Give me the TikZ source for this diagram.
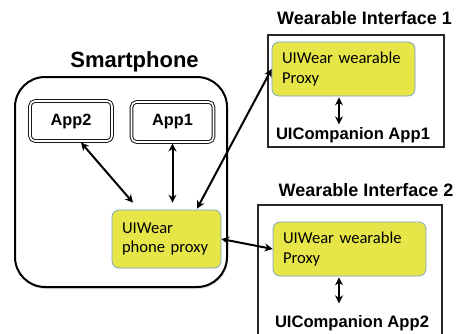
\documentclass[tikz,border=0pt]{standalone}
\usepackage{fontspec}
\setmainfont{Liberation Sans}
\newfontfamily\calib{Carlito}
\usetikzlibrary{arrows.meta,calc,shadows}
\definecolor{prox}{RGB}{231,230,72}
\definecolor{proxedge}{RGB}{120,160,205}
\tikzset{
  x=1pt,y=-1pt,
  ttl/.style={font=\fontsize{18}{20}\selectfont\bfseries,anchor=base,inner sep=0},
  lbl/.style={font=\fontsize{16.6}{19}\selectfont\bfseries,anchor=base,inner sep=0},
  appbox/.style={draw=black!90,double=white,double distance=1.6pt,line width=1pt,rounded corners=5pt,
     minimum width=82pt,minimum height=40pt,inner sep=0,font=\fontsize{16.3}{18}\selectfont\bfseries},
  proxybox/.style={fill=prox,draw=proxedge,line width=0.7pt,rounded corners=7pt,
     inner xsep=10pt,inner ysep=0pt,align=left,font=\calib\fontsize{16.6}{19.5}\selectfont},
  arr/.style={line width=2pt,{Stealth[length=8pt,width=8pt]}-{Stealth[length=8pt,width=8pt]}},
  frame/.style={draw=black!85,line width=1.2pt}
}
\begin{document}
\begin{tikzpicture}
\useasboundingbox (0,0) rectangle (458,333);
% Smartphone
\node[draw=black,line width=2pt,rounded corners=30pt,minimum width=212pt,minimum height=210pt,
  drop shadow={shadow xshift=1pt,shadow yshift=-2pt,opacity=0.25}, fill=white]
  (phone) at (121,182) {};
\node[ttl,font=\fontsize{22}{24}\selectfont\bfseries] (phonettl) at (134.5,67) {Smartphone};
\node[appbox] (app2) at (71,121) {App2};
\node[appbox] (app1) at (172.5,122) {App1};
\node[proxybox,text width=89pt,minimum height=58pt] (proxy) at (166.5,239) {UIWear\\phone proxy};
% Wearable 1
\node[frame,minimum width=176pt,minimum height=112pt,inner sep=0] (w1) at (356,91) {};
\node[ttl] (w1ttl) at (364.5,24.5) {Wearable Interface 1};
\node[proxybox,text width=123pt,minimum height=54pt] (wp1) at (343.5,69) {UIWear wearable\\Proxy};
\node[lbl] (c1) at (353,139.5) {UICompanion App1};
% Wearable 2
\node[frame,minimum width=184pt,minimum height=140pt,inner sep=0] (w2) at (350,275) {};
\node[ttl] (w2ttl) at (366,196) {Wearable Interface 2};
\node[proxybox,text width=133pt,minimum height=54pt] (wp2) at (349.5,249) {UIWear wearable\\Proxy};
\node[lbl] (c2) at (352,327) {UICompanion App2};
% arrows
\draw[arr] ($(app2.south)+(10,1)$) -- ($(proxy.north)+(-33.5,-7)$);
\draw[arr] ($(app1.south)+(0,1)$) -- ($(proxy.north)+(6,-7)$);
\draw[arr] ($(proxy.north)+(30.5,-1)$) -- (wp1.west);
\draw[arr] (proxy.east) -- (wp2.west);
\draw[arr] ($(wp1.south)+(-4.5,1)$) -- ($(wp1.south)+(-4.5,28)$);
\draw[arr] ($(wp2.south)+(-10.5,1)$) -- ($(wp2.south)+(-10.5,27)$);
\end{tikzpicture}
\end{document}
